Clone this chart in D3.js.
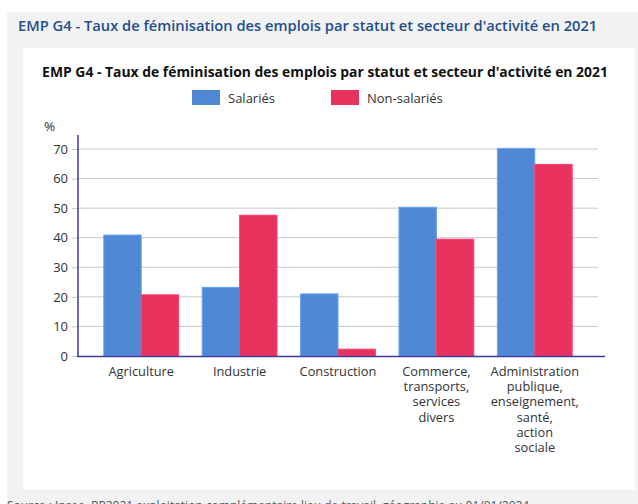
<!DOCTYPE html>
<html><head><meta charset="utf-8">
<script src="https://cdn.jsdelivr.net/npm/d3@7"></script>
<style>body{margin:0;background:#fff;font-family:"Open Sans",sans-serif;}</style>
</head><body><svg id="c" width="638" height="504"></svg>
<script>
const categories = ["Agriculture","Industrie","Construction","Commerce, transports, services divers","Administration publique, enseignement, santé, action sociale"];
const categoryLines = [["Agriculture"],["Industrie"],["Construction"],["Commerce,","transports,","services","divers"],["Administration","publique,","enseignement,","santé,","action","sociale"]];
const seriesNames = ["Salariés","Non-salariés"];
const salaries = [40.9, 23.2, 21.0, 50.3, 70.2];
const nonSalaries = [20.7, 47.6, 2.3, 39.5, 64.8];
const yTicks = [0,10,20,30,40,50,60,70];
const colors = ["#5088d4","#e8335f"];

const svg = d3.select("#c");
svg.append("rect").attr("x",7).attr("y",12).attr("width",631).attr("height",492).attr("fill","#f2f2f2");
svg.append("rect").attr("x",23).attr("y",48).attr("width",612).attr("height",442).attr("fill","#fff");
svg.append("text").attr("x",18).attr("y",31).attr("font-size",14.7).attr("font-weight",600).attr("fill","#1f4f8c")
  .text("EMP G4 - Taux de féminisation des emplois par statut et secteur d'activité en 2021");
svg.append("text").attr("x",325).attr("y",77).attr("text-anchor","middle").attr("font-size",13.9).attr("font-weight","bold").attr("fill","#111")
  .text("EMP G4 - Taux de féminisation des emplois par statut et secteur d'activité en 2021");
svg.append("text").attr("x",7).attr("y",510).attr("font-size",12).attr("fill","#555")
  .text("Source : Insee, RP2021 exploitation complémentaire lieu de travail, géographie au 01/01/2024");

// legend
const legX = [192, 331];
seriesNames.forEach((s,i)=>{
  svg.append("rect").attr("x",legX[i]).attr("y",90).attr("width",28).attr("height",15).attr("fill",colors[i]);
  svg.append("text").attr("x",legX[i]+36).attr("y",103).attr("font-size",13).attr("fill","#333").text(s);
});

const y = d3.scaleLinear().domain([0,70]).range([356,149]);
const x0 = d3.scaleBand().domain(categories).range([92,584]).paddingInner(0.24).paddingOuter(0.12);
const x1 = d3.scaleBand().domain(seriesNames).range([0,x0.bandwidth()]);

// grid
svg.append("g").selectAll("line").data(yTicks.filter(t=>t>0)).join("line")
  .attr("x1",78).attr("x2",598).attr("y1",d=>y(d)).attr("y2",d=>y(d)).attr("stroke","#c8c8c8").attr("stroke-width",1);

// y axis
const yAxis = d3.axisLeft(y).tickValues(yTicks).tickSize(6).tickPadding(4);
const gy = svg.append("g").attr("transform","translate(78,0)").call(yAxis);
gy.select(".domain").remove();
gy.selectAll(".tick line").attr("stroke","#c8c8c8");
gy.selectAll(".tick text").attr("font-size",13).attr("fill","#333").attr("font-family","Open Sans");
svg.append("text").attr("x",44).attr("y",131).attr("font-size",13.5).attr("fill","#333").text("%");

// bars
const data = [salaries, nonSalaries];
const g = svg.append("g");
categories.forEach((c,ci)=>{
  seriesNames.forEach((s,si)=>{
    g.append("rect").attr("x",x0(c)+x1(s)).attr("y",y(data[si][ci]))
      .attr("width",x1.bandwidth()).attr("height",y(0)-y(data[si][ci]))
      .attr("fill",colors[si]).attr("stroke",d3.color(colors[si]).brighter(0.5)).attr("stroke-width",1);
  });
});

// axes lines
svg.append("line").attr("x1",78).attr("x2",78).attr("y1",135).attr("y2",357).attr("stroke","#3a3aa0").attr("stroke-width",1.5);
svg.append("line").attr("x1",77).attr("x2",605).attr("y1",356.5).attr("y2",356.5).attr("stroke","#3a3aa0").attr("stroke-width",1.5);

// x labels (one text per line)
categories.forEach((c,ci)=>{
  const cx = x0(c)+x0.bandwidth()/2;
  categoryLines[ci].forEach((l,li)=>{
    svg.append("text").attr("x",cx).attr("y",376+li*15.2).attr("text-anchor","middle")
      .attr("font-size",12.8).attr("fill","#333").text(l);
  });
});
</script></body></html>
